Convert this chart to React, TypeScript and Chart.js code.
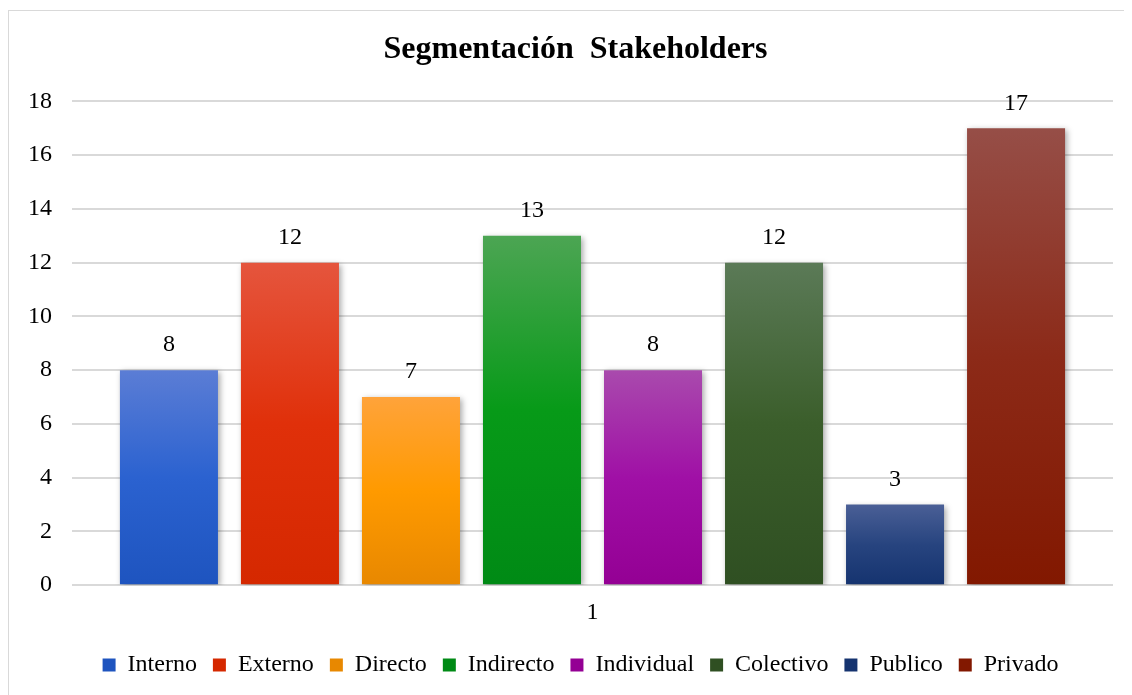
import React, { useEffect, useRef } from "react";
import { Chart, registerables } from "chart.js";

Chart.register(...registerables);

const categories = ["1"];
const seriesNames = ["Interno", "Externo", "Directo", "Indirecto", "Individual", "Colectivo", "Publico", "Privado"];
const seriesValues = [8, 12, 7, 13, 8, 12, 3, 17];
const topColors = ["#5b7dd5", "#e5553d", "#ffa33a", "#4ca553", "#a94aad", "#5b7a57", "#4a5f96", "#964e47"];
const midColors = ["#2b62d0", "#e0300a", "#ff9a00", "#079a18", "#a010a6", "#3b5e2b", "#27447f", "#8c2a18"];
const bottomColors = ["#1e54bf", "#d52800", "#e88800", "#008a15", "#940094", "#2f4f22", "#15336f", "#821800"];
const yTicks = [0, 2, 4, 6, 8, 10, 12, 14, 16, 18];
const chartTitle = "Segmentación  Stakeholders";

const FONT = "'Liberation Serif', 'Times New Roman', serif";

const shadowPlugin = {
  id: "barShadow",
  beforeDatasetsDraw(chart: any) {
    const ctx = chart.ctx;
    ctx.save();
    ctx.shadowColor = "rgba(0,0,0,0.35)";
    ctx.shadowBlur = 6;
    ctx.shadowOffsetX = 2;
    ctx.shadowOffsetY = 2;
  },
  afterDatasetsDraw(chart: any) {
    chart.ctx.restore();
  },
};

const labelPlugin = {
  id: "valueLabels",
  afterDatasetsDraw(chart: any) {
    const ctx = chart.ctx;
    ctx.save();
    ctx.font = `24px ${FONT}`;
    ctx.fillStyle = "#000";
    ctx.textAlign = "center";
    ctx.textBaseline = "bottom";
    chart.data.datasets.forEach((ds: any, i: number) => {
      const meta = chart.getDatasetMeta(i);
      meta.data.forEach((el: any, j: number) => {
        ctx.fillText(String(ds.data[j]), el.x, el.y - 13);
      });
    });
    ctx.restore();
  },
};

const shiftPlugin = {
  id: "shiftBlocks",
  afterLayout(chart: any) {
    if (chart.legend) {
      chart.legend.left += 20;
      chart.legend.right += 20;
    }
    if (chart.titleBlock) {
      chart.titleBlock.left += 15;
      chart.titleBlock.right += 15;
    }
  },
};

export default function App() {
  const ref = useRef<HTMLCanvasElement>(null);
  useEffect(() => {
    if (!ref.current) return;
    const chart = new Chart(ref.current, {
      type: "bar",
      data: {
        labels: categories,
        datasets: seriesNames.map((name, i) => ({
          label: name,
          data: [seriesValues[i]],
          backgroundColor: (c: any) => {
            if (c.type !== "data") return midColors[i];
            const ch = c.chart;
            if (!ch.chartArea) return midColors[i];
            const y = ch.scales.y;
            const top = y.getPixelForValue(c.raw);
            const bot = y.getPixelForValue(0);
            const g = ch.ctx.createLinearGradient(0, top, 0, bot);
            g.addColorStop(0, topColors[i]);
            g.addColorStop(0.5, midColors[i]);
            g.addColorStop(1, bottomColors[i]);
            return g;
          },
          borderWidth: 0,
          barPercentage: 0.81,
          categoryPercentage: 0.93,
        })),
      },
      options: {
        responsive: false,
        animation: false,
        layout: { padding: { left: -1, right: 19, top: 8, bottom: 8 } },
        plugins: {
          title: {
            display: true,
            text: chartTitle,
            color: "#000",
            font: { family: FONT, size: 32, weight: "bold" },
            padding: { top: 12, bottom: 32 },
          },
          legend: {
            position: "bottom",
            labels: {
              color: "#000",
              font: { family: FONT, size: 24 },
              boxWidth: 13,
              boxHeight: 13,
              padding: 16,
            },
          },
          tooltip: { enabled: false },
        },
        scales: {
          x: {
            grid: { display: false },
            border: { display: false },
            ticks: { color: "#000", font: { family: FONT, size: 24 }, padding: 5 },
            afterFit: (s: any) => {
              s.height += 5;
            },
          },
          y: {
            min: 0,
            max: 18,
            afterBuildTicks: (s: any) => {
              s.ticks = yTicks.map((v) => ({ value: v }));
            },
            grid: { color: "#d9d9d9", lineWidth: 2, drawTicks: false },
            border: { display: false },
            ticks: { color: "#000", font: { family: FONT, size: 24 }, padding: 20 },
          },
        },
      },
      plugins: [shadowPlugin, labelPlugin, shiftPlugin],
    } as any);
    return () => chart.destroy();
  }, []);
  return (
    <div
      style={{
        marginTop: 2,
        borderLeft: "1px solid #d9d9d9",
        borderTop: "1px solid #d9d9d9",
        width: 1123,
        height: 684,
        overflow: "hidden",
      }}
    >
      <canvas ref={ref} width={1123} height={684} style={{ display: "block" }} />
    </div>
  );
}
